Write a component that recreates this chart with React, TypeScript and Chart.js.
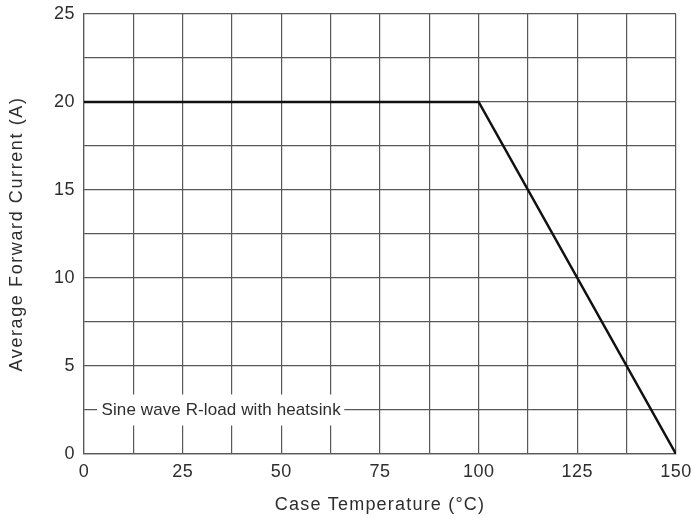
import React, { useEffect, useRef } from "react";
import { Chart, registerables } from "chart.js";

Chart.register(...registerables);

// ---- data ----
const curveX: number[] = [0, 100, 150];
const curveY: number[] = [20, 20, 0];
const xMin = 0;
const xMax = 150;
const xStep = 12.5;
const xLabelEvery = 25;
const yMin = 0;
const yMax = 25;
const yStep = 2.5;
const yLabelEvery = 5;
const xTitle = "Case Temperature (°C)";
const yTitle = "Average Forward Current (A)";
const noteText = "Sine wave R-load with heatsink";
const noteX = 3.3;
const noteY = 2.5;

const FONT = "'Liberation Sans', Arial, Helvetica, sans-serif";
const GRID = "#585858";
const TEXT = "#2e2e2e";
const TICK_SPACING = "0.5px";

const spacingPlugin = {
  id: "spacing",
  beforeInit(chart: any) {
    (chart.ctx as any).letterSpacing = TICK_SPACING;
  },
  beforeLayout(chart: any) {
    (chart.ctx as any).letterSpacing = TICK_SPACING;
  },
  beforeDraw(chart: any) {
    (chart.ctx as any).letterSpacing = TICK_SPACING;
  },
};

function patchTitleSpacing(scale: any, spacing: string) {
  if (scale._titlePatched) return;
  const orig = Object.getPrototypeOf(scale).drawTitle;
  scale.drawTitle = function (...args: any[]) {
    const c: any = this.ctx;
    const prev = c.letterSpacing;
    c.letterSpacing = spacing;
    orig.apply(this, args);
    c.letterSpacing = prev;
  };
  scale._titlePatched = true;
}

const notePlugin = {
  id: "note",
  beforeDatasetsDraw(chart: any) {
    const { ctx, scales } = chart;
    const px = scales.x.getPixelForValue(noteX);
    const py = scales.y.getPixelForValue(noteY);
    ctx.save();
    (ctx as any).letterSpacing = "0.1px";
    ctx.font = `17px ${FONT}`;
    const w = ctx.measureText(noteText).width;
    ctx.fillStyle = "#ffffff";
    ctx.fillRect(px, py - 15.5, w + 8, 31);
    ctx.fillStyle = TEXT;
    ctx.textAlign = "left";
    ctx.textBaseline = "middle";
    ctx.fillText(noteText, px + 4.5, py + 0.5);
    ctx.restore();
  },
};

export default function App() {
  const ref = useRef<HTMLCanvasElement | null>(null);

  useEffect(() => {
    document.body.style.margin = "0";
    const canvas = ref.current;
    if (!canvas) return;
    const chart = new Chart(canvas, {
      type: "line",
      data: {
        datasets: [
          {
            data: curveX.map((x, i) => ({ x, y: curveY[i] })),
            borderColor: "#111111",
            borderWidth: 2.5,
            pointRadius: 0,
            tension: 0,
            fill: false,
          },
        ],
      },
      options: {
        responsive: false,
        animation: false,
        events: [],
        layout: { padding: { left: 0, top: 14, right: 15, bottom: 0 } },
        plugins: {
          legend: { display: false },
          tooltip: { enabled: false },
          title: { display: false },
        },
        scales: {
          x: {
            type: "linear",
            min: xMin,
            max: xMax,
            afterFit(scale: any) {
              scale.height = 68;
              scale.paddingLeft = 0;
              scale.paddingRight = 0;
            },
            afterUpdate(scale: any) {
              patchTitleSpacing(scale, "1.2px");
            },
            grid: { color: GRID, lineWidth: 1.2, drawTicks: false },
            border: { display: true, color: GRID, width: 1.2 },
            ticks: {
              stepSize: xStep,
              autoSkip: false,
              maxRotation: 0,
              padding: 7,
              color: TEXT,
              font: { family: FONT, size: 18 },
              callback: (v: any) => (Number(v) % xLabelEvery === 0 ? String(v) : ""),
            },
            title: {
              display: true,
              text: xTitle,
              color: TEXT,
              font: { family: FONT, size: 18 },
              padding: { top: 0, bottom: 6 },
            },
          },
          y: {
            type: "linear",
            min: yMin,
            max: yMax,
            afterFit(scale: any) {
              scale.width = 84;
              scale.paddingTop = 0;
              scale.paddingBottom = 0;
            },
            afterUpdate(scale: any) {
              patchTitleSpacing(scale, "1.6px");
            },
            grid: { color: GRID, lineWidth: 1.2, drawTicks: false },
            border: { display: true, color: GRID, width: 1.2 },
            ticks: {
              stepSize: yStep,
              autoSkip: false,
              padding: 9,
              color: TEXT,
              font: { family: FONT, size: 18 },
              callback: (v: any) => (Number(v) % yLabelEvery === 0 ? String(v) : ""),
            },
            title: {
              display: true,
              text: yTitle,
              color: TEXT,
              font: { family: FONT, size: 18 },
              padding: { top: 6, bottom: 0 },
            },
          },
        },
      },
      plugins: [spacingPlugin, notePlugin],
    } as any);
    return () => chart.destroy();
  }, []);

  return (
    <div style={{ position: "absolute", left: 0, top: 0, width: 691, height: 522 }}>
      <canvas ref={ref} width={691} height={522} style={{ width: 691, height: 522, display: "block" }} />
    </div>
  );
}
